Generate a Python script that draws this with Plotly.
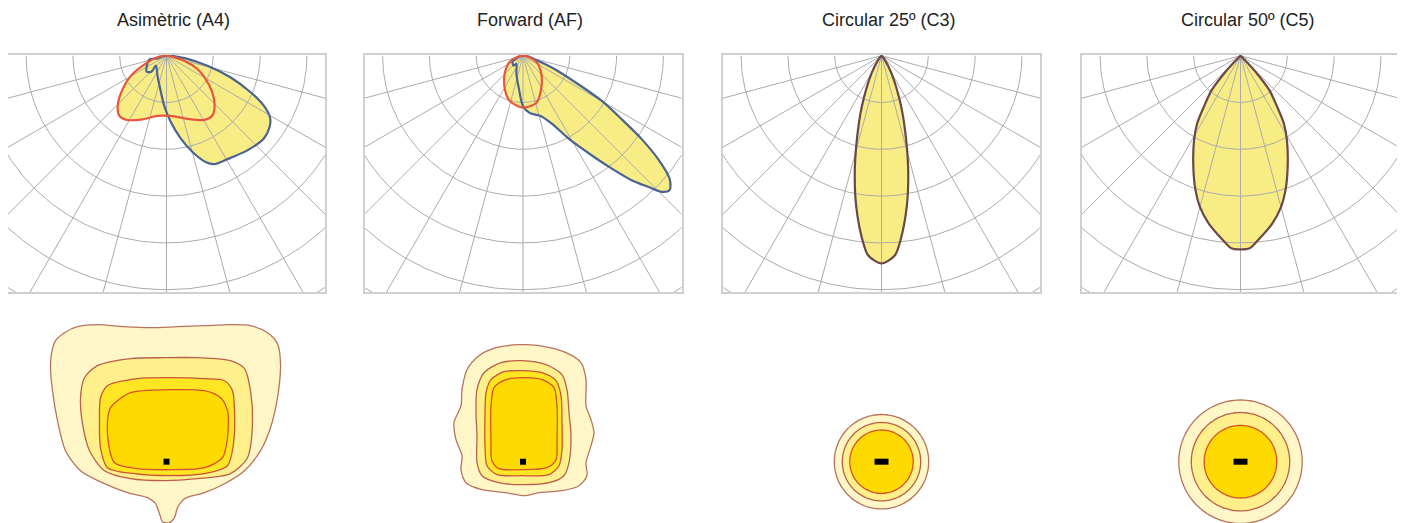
import numpy as np
import plotly.graph_objects as go

W, H = 1405, 523
BODY = 8                      # default page margin of the html body
WF, HF = W - BODY, H - BODY   # figure size so the drawing fills the window

titles = ["Asimètric (A4)", "Forward (AF)", "Circular 25º (C3)", "Circular 50º (C5)"]

# ---------------- polar intensity curves (gamma in deg from nadir, intensity in ring units)
a4_c0_gamma = [-88, -80, -70.7, -60.7, -52.9, -44.4, -38.3, -32.3, -21.8, -8.4, 4.1, 18.3, 30.3, 37.5, 44.0, 51.4, 59.3, 66.7, 74.2, 81, 88]
a4_c0_int = [0.05, 0.2, 0.43, 0.87, 1.17, 1.49, 1.63, 1.62, 1.47, 1.30, 1.29, 1.42, 1.59, 1.61, 1.48, 1.25, 0.97, 0.72, 0.39, 0.09, 0.03]

a4_c90_gamma = [-85, -73.5, -77, -51.3, -43.2, -46.8, -24.2, -10.8, -2.7, 3.7, 9.8, 15.1, 20.2, 23.6, 30.4, 40.5, 49.5, 55.3, 59.3, 62.9, 66.5, 71.4, 76.3, 82.1, 88]
a4_c90_int = [0.05, 0.20, 0.38, 0.545, 0.47, 0.31, 0.47, 0.72, 1.065, 1.42, 1.80, 2.13, 2.42, 2.53, 2.565, 2.66, 2.73, 2.68, 2.57, 2.33, 1.96, 1.44, 0.90, 0.41, 0.09]

af_c0_gamma = [-85, -65.8, -46.1, -28.1, -16.2, 0, 15.6, 28.1, 46.1, 65.8, 85]
af_c0_int = [0.05, 0.31, 0.54, 0.82, 1.01, 1.11, 1.05, 0.82, 0.54, 0.31, 0.05]

af_c90_gamma = [-80, -65.6, -60.6, -43, -38.7, -20.7, -6.6, 0, 6.6, 16.7, 23.4, 29.0, 34.7, 38.2, 41.1, 43.7, 45.5, 47.5, 50.0, 52.6, 54.9, 57.2, 60.1, 62.6, 66.7, 72, 88]
af_c90_int = [0.08, 0.17, 0.26, 0.29, 0.225, 0.40, 0.73, 1.08, 1.23, 1.35, 1.60, 2.04, 2.60, 3.07, 3.53, 3.88, 4.15, 4.25, 4.09, 3.63, 3.10, 2.51, 1.95, 1.35, 0.77, 0.30, 0.07]

c3_gamma = [-60, -40, -29.5, -21.1, -16.3, -12.8, -9.5, -5.9, -3.8, 0, 3.8, 5.9, 9.5, 12.8, 16.3, 21.1, 29.5, 40, 60]
c3_int = [0.0, 0.1, 0.43, 1.17, 1.88, 2.58, 3.27, 3.96, 4.28, 4.44, 4.28, 3.96, 3.27, 2.58, 1.88, 1.17, 0.43, 0.1, 0.0]

c5_gamma = [-55, -44, -42.7, -39.9, -35.7, -32.6, -28.8, -23.0, -18.5, -15.1, -10.7, -5.4, -2.7, 0, 2.7, 5.4, 10.7, 15.1, 18.5, 23.0, 28.8, 32.6, 35.7, 39.9, 42.7, 44, 55]
c5_int = [0.0, 0.22, 0.51, 0.96, 1.34, 1.72, 2.06, 2.58, 3.03, 3.34, 3.65, 3.96, 4.12, 4.14, 4.12, 3.96, 3.65, 3.34, 3.03, 2.58, 2.06, 1.72, 1.34, 0.96, 0.51, 0.22, 0.0]

ring_values = [1, 2, 3, 4, 5, 6, 7]
spoke_angles = [-75, -60, -45, -30, -15, 0, 15, 30, 45, 60, 75]

# ---------------- isolux contours (metres relative to luminaire)
a4_iso1_x = [-11.5, -11.1, -10.2, -8.9, -6.9, -4.2, -1.6, 1.1, 3.8, 6.4, 8.4, 10.1, 11.1, 11.4, 11.1, 10.4, 9.4, 7.8, 5.8, 3.8, 1.8, 1.1, 0.8, 0.3, -0.4, -0.7, -1.1, -1.9, -3.9, -6.2, -8.6, -10.1, -10.9, -11.4, -11.6]
a4_iso1_y = [10.8, 12.1, 12.9, 13.5, 13.7, 13.5, 13.4, 13.5, 13.6, 13.7, 13.6, 12.9, 11.8, 9.8, 6.4, 3.4, 1.1, -0.9, -2.2, -3.1, -3.7, -4.6, -5.6, -6.1, -6.0, -5.2, -4.2, -3.6, -3.1, -2.2, -0.9, 1.1, 4.1, 7.1, 9.4]
a4_iso2_x = [-6.9, -3.6, -0.2, 3.1, 6.4, 7.8, 8.4, 8.6, 8.1, 6.4, 3.1, -0.2, -3.6, -6.2, -7.7, -8.4, -8.6, -8.2]
a4_iso2_y = [9.6, 10.3, 10.4, 10.4, 10.1, 9.3, 7.1, 3.8, 0.4, -1.2, -1.7, -1.9, -1.7, -0.9, 1.1, 3.8, 6.4, 8.4]
a4_iso3_x = [-5.9, -2.9, 0.4, 3.8, 5.8, 6.6, 6.8, 6.7, 6.1, 3.8, 0.4, -3.2, -5.9, -6.6, -6.7, -6.6]
a4_iso3_y = [7.6, 8.3, 8.4, 8.3, 8.1, 7.1, 5.1, 1.8, -0.4, -1.2, -1.4, -1.2, -0.6, 1.4, 4.4, 6.4]
a4_iso4_x = [-5.6, -3.6, 0.4, 3.8, 5.4, 6.1, 6.1, 5.6, 3.8, 0.4, -2.9, -5.2, -5.8, -5.9]
a4_iso4_y = [5.4, 6.9, 7.2, 7.1, 6.4, 5.1, 2.4, 0.4, -0.6, -0.8, -0.7, -0.1, 1.8, 4.1]

af_iso1_x = [-0.4, 1.6, 4.3, 5.8, 6.3, 6.3, 6.8, 7.1, 6.8, 6.3, 6.4, 5.6, 3.9, 1.6, 0.1, -1.7, -4.1, -5.7, -6.2, -6.1, -6.7, -6.9, -6.2, -6.1, -5.6, -4.4, -2.7]
af_iso1_y = [11.7, 11.6, 10.9, 9.9, 8.2, 5.6, 4.2, 2.9, 1.6, -0.1, -1.4, -2.4, -2.9, -3.1, -3.4, -3.1, -2.8, -2.1, -0.8, 0.6, 2.2, 3.9, 5.6, 7.2, 9.2, 10.6, 11.4]
af_iso2_x = [-0.1, 2.3, 3.9, 4.4, 4.6, 4.8, 4.6, 4.1, 2.6, -0.1, -2.4, -4.1, -4.6, -4.6, -4.7, -4.6, -3.9, -2.2]
af_iso2_y = [10.1, 9.7, 8.7, 7.2, 4.9, 2.6, -0.1, -1.4, -2.1, -2.3, -2.1, -1.4, -0.1, 2.6, 4.9, 7.2, 8.9, 9.9]
af_iso3_x = [-0.1, 1.9, 3.3, 3.8, 3.9, 3.9, 3.6, 2.6, -0.1, -2.6, -3.6, -3.8, -3.8, -3.7, -3.2, -1.9]
af_iso3_y = [9.1, 8.9, 8.1, 6.6, 3.9, 1.2, -0.4, -1.3, -1.4, -1.3, -0.4, 1.6, 4.6, 6.9, 8.2, 9.0]
af_iso4_x = [-0.1, 1.9, 3.1, 3.4, 3.4, 3.3, 2.4, -0.1, -2.4, -3.1, -3.2, -3.2, -2.9, -1.7]
af_iso4_y = [8.4, 8.2, 7.4, 5.6, 2.2, 0.2, -0.6, -0.8, -0.7, 0.1, 2.2, 5.6, 7.4, 8.2]

c3_iso_radius = [4.72, 3.92, 3.17]
c5_iso_radius = [6.17, 4.92, 3.63]

# ---------------- styles / layout constants (page pixels)
panel_left_px = [8, 364.5, 723, 1082]
panel_w_px = 317
top_px = (55, 292)
bot_px = (305, 523)
lum_py = 461.7
title_py = 19.5
title_dx_px = 7
ring_px = 46.8
lobe_fill = "#f8ed84"
grid_color = "#ababab"
red_line = "#e8573d"
blue_line = "#4a6391"
dark_line = "#6b4848"
iso_fill4 = ["#fff7c8", "#fff08c", "#ffe622", "#ffda00"]
iso_line4 = ["#b8735e", "#b8604c", "#c9553a", "#d6522c"]
iso_fill3 = ["#fff7c8", "#fff08c", "#ffda00"]
iso_line3 = ["#b8735e", "#b8604c", "#d6522c"]


def clamp(v):
    return min(1.0, max(0.0, v))


def px_x(px):
    return clamp((px - BODY) / WF)


def px_y(py):
    return clamp(1 - (py - BODY) / HF)


def polar_xy(gamma, inten):
    g = np.radians(np.asarray(gamma, float))
    r = np.asarray(inten, float)
    return r * np.sin(g), -r * np.cos(g)


def closed(x, y):
    x = list(x) + [x[0]]
    y = list(y) + [y[0]]
    return x, y


def grid_xy():
    xs, ys = [], []
    g = np.radians(np.arange(-90, 90.5, 1.0))
    for k in ring_values:
        xs += list(k * np.sin(g)) + [None]
        ys += list(-k * np.cos(g)) + [None]
    for a in spoke_angles:
        t = np.radians(a)
        xs += [0, 9 * np.sin(t), None]
        ys += [0, -9 * np.cos(t), None]
    return xs, ys


fig = go.Figure()

polar_sets = [
    [(a4_c90_gamma, a4_c90_int, blue_line), (a4_c0_gamma, a4_c0_int, red_line)],
    [(af_c90_gamma, af_c90_int, blue_line), (af_c0_gamma, af_c0_int, red_line)],
    [(c3_gamma, c3_int, dark_line)],
    [(c5_gamma, c5_int, dark_line)],
]

iso_sets = [
    ([(a4_iso1_x, a4_iso1_y), (a4_iso2_x, a4_iso2_y), (a4_iso3_x, a4_iso3_y), (a4_iso4_x, a4_iso4_y)], "poly"),
    ([(af_iso1_x, af_iso1_y), (af_iso2_x, af_iso2_y), (af_iso3_x, af_iso3_y), (af_iso4_x, af_iso4_y)], "poly"),
    (c3_iso_radius, "circle"),
    (c5_iso_radius, "circle"),
]

gx, gy = grid_xy()
layout_axes = {}
annotations = []

for i in range(4):
    xa_top = "x" if i == 0 else f"x{2*i+1}"
    ya_top = "y" if i == 0 else f"y{2*i+1}"
    xa_bot = f"x{2*i+2}"
    ya_bot = f"y{2*i+2}"

    # fills
    for gam, inten, col in polar_sets[i]:
        x, y = polar_xy(gam, inten)
        x, y = closed(x, y)
        fig.add_trace(go.Scatter(x=x, y=y, mode="lines", fill="toself", fillcolor=lobe_fill,
                                 line=dict(width=0, shape="spline", smoothing=0.8),
                                 xaxis=xa_top, yaxis=ya_top, hoverinfo="skip"))
    # grid
    fig.add_trace(go.Scatter(x=gx, y=gy, mode="lines", line=dict(color=grid_color, width=1),
                             xaxis=xa_top, yaxis=ya_top, hoverinfo="skip"))
    # outlines
    for gam, inten, col in polar_sets[i]:
        x, y = polar_xy(gam, inten)
        x, y = closed(x, y)
        fig.add_trace(go.Scatter(x=x, y=y, mode="lines",
                                 line=dict(color=col, width=2.2, shape="spline", smoothing=0.8),
                                 xaxis=xa_top, yaxis=ya_top, hoverinfo="skip"))

    # isolux
    data, kind = iso_sets[i]
    if kind == "poly":
        fills, lines = iso_fill4, iso_line4
        polys = data
    else:
        fills, lines = iso_fill3, iso_line3
        t = np.radians(np.arange(0, 361, 3))
        polys = [(r * np.cos(t), r * np.sin(t)) for r in data]
    for k, (px, py) in enumerate(polys):
        x, y = closed(list(px), list(py))
        fig.add_trace(go.Scatter(x=x, y=y, mode="lines", fill="toself", fillcolor=fills[k],
                                 line=dict(color=lines[k], width=1.3, shape="spline", smoothing=0.8),
                                 xaxis=xa_bot, yaxis=ya_bot, hoverinfo="skip"))
    if kind == "poly":
        fig.add_trace(go.Scatter(x=[0], y=[0], mode="markers",
                                 marker=dict(symbol="square", size=6, color="black"),
                                 xaxis=xa_bot, yaxis=ya_bot, hoverinfo="skip"))
    else:
        fig.add_trace(go.Scatter(x=[0], y=[0], mode="markers",
                                 marker=dict(symbol="line-ew", size=10, line=dict(width=6, color="black")),
                                 xaxis=xa_bot, yaxis=ya_bot, hoverinfo="skip"))

    L = panel_left_px[i]
    dom = [px_x(L), px_x(L + panel_w_px)]
    hx = panel_w_px / 2 / ring_px
    top_key_x = "xaxis" if i == 0 else f"xaxis{2*i+1}"
    top_key_y = "yaxis" if i == 0 else f"yaxis{2*i+1}"
    layout_axes[top_key_x] = dict(domain=dom, range=[-hx, hx], showgrid=False, zeroline=False,
                                  showticklabels=False, ticks="", showline=True, mirror=True,
                                  linecolor="#d0d0d0", linewidth=2, anchor=ya_top, fixedrange=True)
    layout_axes[top_key_y] = dict(domain=[px_y(top_px[1]), px_y(top_px[0])],
                                  range=[-(top_px[1] - top_px[0] - 0.7) / ring_px, 0.7 / ring_px],
                                  showgrid=False, zeroline=False, showticklabels=False, ticks="",
                                  showline=True, mirror=True, linecolor="#d0d0d0", linewidth=2,
                                  anchor=xa_top, fixedrange=True)
    layout_axes[f"xaxis{2*i+2}"] = dict(domain=dom, range=[-panel_w_px / 20, panel_w_px / 20],
                                        visible=False, anchor=ya_bot, fixedrange=True)
    layout_axes[f"yaxis{2*i+2}"] = dict(domain=[px_y(bot_px[1]), px_y(bot_px[0])],
                                        range=[-(bot_px[1] - lum_py) / 10, (lum_py - bot_px[0]) / 10],
                                        visible=False, anchor=xa_bot, fixedrange=True)
    annotations.append(dict(text=titles[i], x=px_x(L + panel_w_px / 2 + title_dx_px), y=px_y(title_py),
                            xref="paper", yref="paper", xanchor="center", yanchor="middle",
                            showarrow=False, font=dict(size=18, color="#222222",
                                                       family="Liberation Sans, Arial, sans-serif")))

fig.update_layout(width=WF, height=HF, margin=dict(l=0, r=0, t=0, b=0),
                  paper_bgcolor="white", plot_bgcolor="white", showlegend=False,
                  annotations=annotations, **layout_axes)

fig.write_html("out.html")
